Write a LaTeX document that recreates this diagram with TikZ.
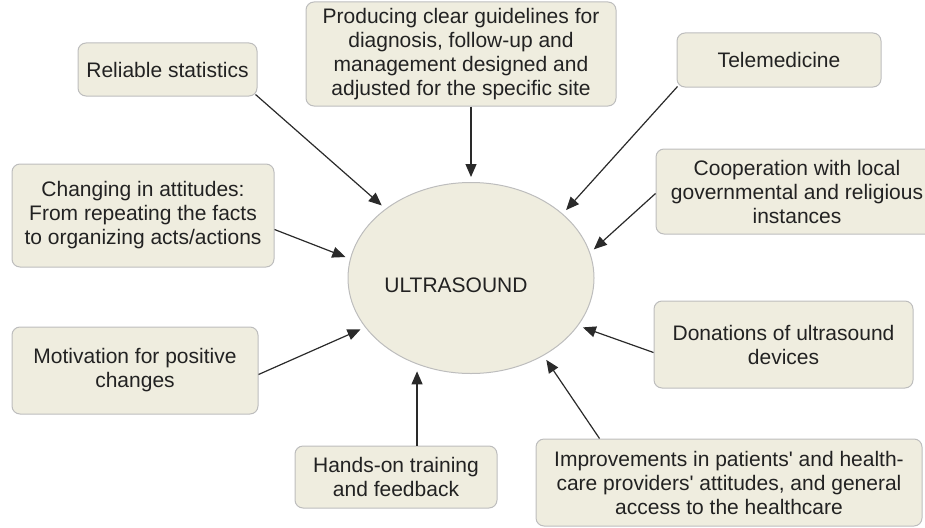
\documentclass[tikz,border=0pt]{standalone}
\usepackage{fontspec}
\setmainfont{Liberation Sans}
\usetikzlibrary{arrows.meta,calc,shapes.geometric}
\definecolor{boxfill}{HTML}{EFEDDF}
\definecolor{boxline}{HTML}{BDBDBD}
\definecolor{txt}{HTML}{222222}
\definecolor{arrline}{HTML}{2A2A2A}
\tikzset{
  item/.style={draw=boxline, line width=1pt, fill=boxfill, rounded corners=8pt,
    inner sep=0pt, align=center, text=txt,
    font=\fontsize{21}{24}\selectfont},
  hub/.style={draw=boxline, line width=1pt, fill=boxfill, ellipse, inner sep=0pt,
    minimum width=246pt, minimum height=191pt},
  arr/.style={draw=arrline, line width=1.2pt, -{Triangle[length=13pt,width=11pt]}, shorten >=5pt}
}
\begin{document}
\begin{tikzpicture}[x=1pt,y=-1pt]
\useasboundingbox (0,0) rectangle (925,527);
\node[hub] (us) at (471,278) {};
\node[text=txt, font=\fontsize{21}{24}\selectfont] (ustxt) at (456,285) {ULTRASOUND};

\node[item, minimum width=179pt, minimum height=53pt] (rel) at (167.5,69.5) {Reliable statistics};
\node[item, minimum width=262pt, minimum height=103pt] (chg) at (143,215.5) {Changing in attitudes:\\From repeating the facts\\to organizing acts/actions};
\node[item, minimum width=310pt, minimum height=104pt] (prod) at (461,54) {Producing clear guidelines for\\diagnosis, follow-up and\\management designed and\\adjusted for the specific site};
\node[item, minimum width=204pt, minimum height=54pt] (tele) at (779,60) {Telemedicine};
\node[item, minimum width=282pt, minimum height=85pt] (coop) at (797,191.5) {Cooperation with local\\governmental and religious\\instances};
\node[item, minimum width=246pt, minimum height=87pt] (mot) at (135,370.5) {Motivation for positive\\changes};
\node[item, minimum width=202pt, minimum height=62pt] (hands) at (396,477) {Hands-on training\\and feedback};
\node[item, minimum width=259pt, minimum height=87pt] (don) at (783.5,344.5) {Donations of ultrasound\\devices};
\node[item, minimum width=386pt, minimum height=87pt] (imp) at (729,482.5) {Improvements in patients\textquotesingle{} and health-\\care providers\textquotesingle{} attitudes, and general\\access to the healthcare};

\draw[arr] ($(rel.south east)+(-2,-2)$) -- (us.141);
\draw[arr] (prod.south -| us.90) -- (us.90);
\draw[arr] ($(tele.south west)+(1,-1)$) -- (us.35);
\draw[arr] ($(coop.west)+(0,2)$) -- (us.12);
\draw[arr] ($(chg.east)+(0,14)$) -- (us.171);
\draw[arr] ($(mot.east)+(0,4)$) -- (us.205);
\draw[arr, shorten >=7pt] (hands.north -| us.238) -- (us.238);
\draw[arr] ($(don.west)+(0,8)$) -- (us.336);
\draw[arr] ($(imp.north west)+(64,0)$) -- (us.313);
\end{tikzpicture}
\end{document}
